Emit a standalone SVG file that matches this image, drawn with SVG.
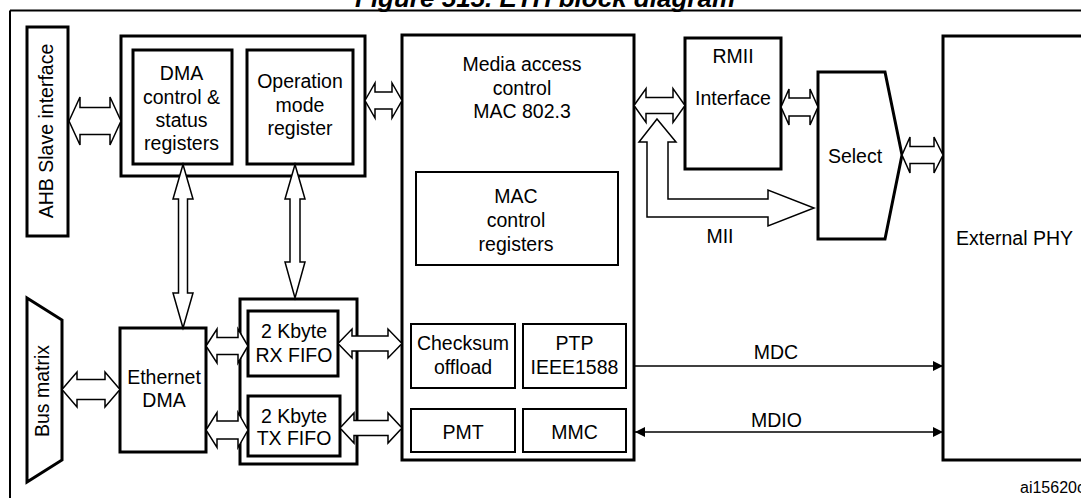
<svg xmlns="http://www.w3.org/2000/svg" width="1081" height="498" viewBox="0 0 1081 498">
<style>
  text { font-family: "Liberation Sans", Arial, sans-serif; font-size: 19.5px; fill: #000; }
  .c { text-anchor: middle; }
  .thick { fill: #fff; stroke: #000; stroke-width: 3; }
  .thin { fill: #fff; stroke: #000; stroke-width: 2; }
  .arr { fill: #fff; stroke: #000; stroke-width: 1.5; stroke-linejoin: miter; }
  .line { fill: none; stroke: #000; stroke-width: 1.5; }
  .title { font-weight: bold; font-style: italic; font-size: 26px; }
  .ref { font-size: 16px; }
</style>
<defs>
  <marker id="ah" viewBox="0 0 10 10" refX="10" refY="5" markerWidth="11" markerHeight="10" markerUnits="userSpaceOnUse" orient="auto-start-reverse">
    <path d="M0,0 L10,5 L0,10 z" fill="#000"/>
  </marker>
</defs>
<rect width="1081" height="498" fill="#fff"/>

<g id="frame">
  <text class="title" x="355" y="7">Figure 515. ETH block diagram</text>
  <path class="line" d="M10,10.5 H1081 M10,10.5 V498" style="stroke-width:2"/>
</g>

<g id="ahb">
  <rect class="thick" x="27" y="27" width="41" height="209"/>
  <text class="c" transform="translate(53,131) rotate(-90)">AHB Slave interface</text>
</g>

<g id="regs">
  <rect class="thick" x="121" y="36" width="244" height="140"/>
</g>
<g id="dmactl">
  <rect class="thick" x="133" y="50" width="99" height="114"/>
  <text class="c" x="181.5" y="80">DMA</text>
  <text class="c" x="181.5" y="104">control &amp;</text>
  <text class="c" x="181.5" y="127">status</text>
  <text class="c" x="181.5" y="150">registers</text>
</g>
<g id="opmode">
  <rect class="thick" x="247" y="50" width="106" height="114"/>
  <text class="c" x="300" y="88">Operation</text>
  <text class="c" x="300" y="112">mode</text>
  <text class="c" x="300" y="135">register</text>
</g>

<g id="mac">
  <rect class="thick" x="402" y="35" width="232" height="425"/>
  <text class="c" x="522" y="71">Media access</text>
  <text class="c" x="522" y="95">control</text>
  <text class="c" x="522" y="118">MAC 802.3</text>
</g>
<g id="macctl">
  <rect class="thin" x="416" y="172" width="202" height="93"/>
  <text class="c" x="516" y="203">MAC</text>
  <text class="c" x="516" y="227">control</text>
  <text class="c" x="516" y="251">registers</text>
</g>
<g id="checksum">
  <rect class="thin" x="411" y="324" width="104" height="64"/>
  <text class="c" x="463" y="350">Checksum</text>
  <text class="c" x="463" y="374">offload</text>
</g>
<g id="ptp">
  <rect class="thin" x="523" y="324" width="103" height="64"/>
  <text class="c" x="574.5" y="350">PTP</text>
  <text class="c" x="574.5" y="374">IEEE1588</text>
</g>
<g id="pmt">
  <rect class="thin" x="411" y="409" width="104" height="43"/>
  <text class="c" x="463" y="439">PMT</text>
</g>
<g id="mmc">
  <rect class="thin" x="523" y="409" width="103" height="43"/>
  <text class="c" x="574.5" y="439">MMC</text>
</g>

<g id="rmii">
  <rect class="thick" x="685" y="38" width="96" height="131"/>
  <text class="c" x="733" y="63">RMII</text>
  <text class="c" x="733" y="105">Interface</text>
</g>

<g id="select">
  <polygon class="thick" points="818,72 885,72 902,155 885,239 818,239"/>
  <text class="c" x="855" y="163">Select</text>
</g>

<g id="phy">
  <rect class="thick" x="943" y="36" width="140" height="424"/>
  <text class="c" x="1014.5" y="245">External PHY</text>
</g>

<g id="busmatrix">
  <polygon class="thick" points="27,298 62,320 62,460 27,482"/>
  <text class="c" transform="translate(49,391) rotate(-90)">Bus matrix</text>
</g>

<g id="ethdma">
  <rect class="thick" x="120" y="328" width="86" height="124"/>
  <text class="c" x="164" y="384">Ethernet</text>
  <text class="c" x="164" y="407">DMA</text>
</g>

<g id="fifos">
  <rect class="thick" x="240" y="299" width="117" height="165"/>
</g>
<g id="rxfifo">
  <rect class="thick" x="248" y="311" width="90" height="65"/>
  <text class="c" x="294" y="338">2 Kbyte</text>
  <text class="c" x="294" y="362">RX FIFO</text>
</g>
<g id="txfifo">
  <rect class="thick" x="248" y="396" width="92" height="60"/>
  <text class="c" x="294" y="423">2 Kbyte</text>
  <text class="c" x="294" y="445">TX FIFO</text>
</g>

<g id="connectors">
  <!-- AHB <-> registers -->
  <polygon class="arr" points="69,121 80,97 80,107.5 110,107.5 110,97 121,121 110,145 110,134.5 80,134.5 80,145"/>
  <!-- registers <-> MAC -->
  <polygon class="arr" points="365,100.5 375,83 375,92 392,92 392,83 402,100.5 392,118 392,109 375,109 375,118"/>
  <!-- MAC <-> RMII -->
  <polygon class="arr" points="634,105.5 646,88.5 646,97.5 673,97.5 673,88.5 685,105.5 673,122.5 673,113.5 646,113.5 646,122.5"/>
  <!-- RMII <-> Select -->
  <polygon class="arr" points="781,107 789,89 789,98 810,98 810,89 818,107 810,125 810,116 789,116 789,125"/>
  <!-- Select <-> PHY -->
  <polygon class="arr" points="902,155 910,137 910,146.5 934,146.5 934,137 943,155 934,173 934,163.5 910,163.5 910,173"/>
  <!-- MII -->
  <polygon class="arr" points="657,119 676,142 668,142 668,199 768,199 768,190 814,208 768,226 768,217 647,217 647,142 639,142"/>
  <!-- Bus matrix <-> Ethernet DMA -->
  <polygon class="arr" points="62,389.5 77,372 77,379.5 105,379.5 105,372 120,389.5 105,407 105,399.5 77,399.5 77,407"/>
  <!-- Ethernet DMA <-> RX FIFO -->
  <polygon class="arr" points="206,346 217,329 217,337.5 238,337.5 238,329 248,346 238,363 238,354.5 217,354.5 217,363"/>
  <!-- Ethernet DMA <-> TX FIFO -->
  <polygon class="arr" points="206,430 217,412.5 217,421 238,421 238,412.5 248,430 238,447.5 238,439 217,439 217,447.5"/>
  <!-- RX FIFO <-> MAC -->
  <polygon class="arr" points="338,343.5 352,329 352,336 388,336 388,329 402,343.5 388,358 388,351 352,351 352,358"/>
  <!-- TX FIFO <-> MAC -->
  <polygon class="arr" points="340,428 354,413 354,420.5 388,420.5 388,413 402,428 388,443 388,435.5 354,435.5 354,443"/>
  <!-- DMA control <-> Ethernet DMA -->
  <polygon class="arr" points="183,164.5 193,199 187.5,199 187.5,293 193,293 183,328 173,293 178.5,293 178.5,199 173,199"/>
  <!-- Operation mode <-> FIFOs -->
  <polygon class="arr" points="295,164.5 305,199 300,199 300,262 305,262 295,298 285,262 290,262 290,199 285,199"/>
  <!-- MDC -->
  <line class="line" x1="634" y1="366" x2="943" y2="366" marker-end="url(#ah)"/>
  <!-- MDIO -->
  <line class="line" x1="635" y1="432" x2="943" y2="432" marker-start="url(#ah)" marker-end="url(#ah)"/>
  <text class="c" x="720" y="243">MII</text>
  <text class="c" x="776" y="359">MDC</text>
  <text class="c" x="776.5" y="427">MDIO</text>
</g>

<text class="ref" x="1020" y="493">ai15620c</text>
</svg>
